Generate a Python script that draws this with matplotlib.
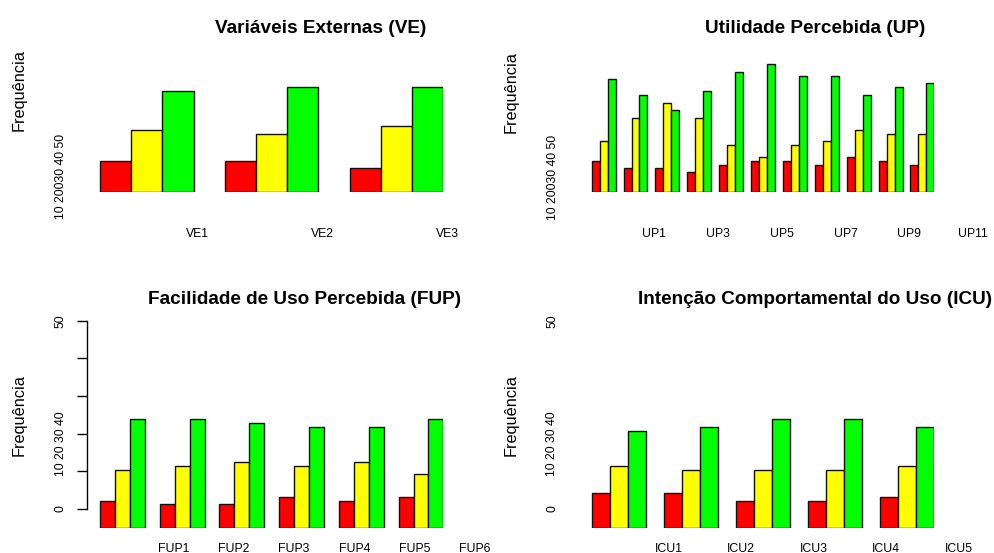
import matplotlib
matplotlib.use("Agg")
import matplotlib.pyplot as plt
import matplotlib.transforms as mtransforms
import numpy as np

plt.rcParams['font.family'] = ['Liberation Sans', 'DejaVu Sans']

W, H = 994, 553

# frequencias por item: discordo / neutro / concordo
ve_labels = ["VE1", "VE2", "VE3"]
ve_red = [8, 8, 6]
ve_yel = [16, 15, 17]
ve_grn = [26, 27, 27]

up_labels = ["UP%d" % i for i in range(1, 12)]
up_red = [8, 6, 6, 5, 7, 8, 8, 7, 9, 8, 7]
up_yel = [13, 19, 23, 19, 12, 9, 12, 13, 16, 15, 15]
up_grn = [29, 25, 21, 26, 31, 33, 30, 30, 25, 27, 28]

fup_labels = ["FUP%d" % i for i in range(1, 7)]
fup_red = [7, 6, 6, 8, 7, 8]
fup_yel = [15, 16, 17, 16, 17, 14]
fup_grn = [28, 28, 27, 26, 26, 28]

icu_labels = ["ICU%d" % i for i in range(1, 6)]
icu_red = [9, 9, 7, 7, 8]
icu_yel = [16, 15, 15, 15, 16]
icu_grn = [25, 26, 28, 28, 26]

yticks = [0, 10, 20, 30, 40, 50]
colors = ["#ff0000", "#ffff00", "#00ff00"]

fig = plt.figure(figsize=(W / 100, H / 100), dpi=100)


def fx(px):
    return px / W


def fy(py):
    return 1 - py / H


PXU = 3.87   # pixels per unit of frequency
YTOP = 55
FS_TICK = 8.8
FS_TITLE = 13.7


def panel(x0, k, base, n):
    ax = fig.add_axes([fx(x0), fy(base), k * 4 * n / W, YTOP * PXU / H])
    ax.set_xlim(0, 4 * n)
    ax.set_ylim(0, YTOP)
    ax.axis('off')
    return ax


def draw_bars(ax, red, yel, grn):
    idx = np.arange(len(red))
    for j, (vals, col) in enumerate(zip([red, yel, grn], colors)):
        ax.bar(idx * 4 + 1 + j, vals, width=1, align='edge', color=col,
               edgecolor='#111111', linewidth=1.0)


def xlabels(ax, labels, start, step, ybase, every=1):
    tr = mtransforms.blended_transform_factory(ax.transData, fig.transFigure)
    for i, lab in enumerate(labels):
        if i % every:
            continue
        ax.text(start + step * i, fy(ybase), lab, transform=tr, ha='center',
                va='baseline', fontsize=FS_TICK, clip_on=False)


def vtext(x, y, s, **kw):
    fig.text(fx(x), fy(y), s, rotation=90, ha='center', va='center', **kw)


# ---- Variaveis Externas
ax1 = panel(68.8, 31.2, 191.7, len(ve_red))
draw_bars(ax1, ve_red, ve_yel, ve_grn)
xlabels(ax1, ve_labels, 4.13, 4.0, 236.7)
fig.text(fx(320.5), fy(32.7), "Variáveis Externas (VE)", ha='center',
         va='baseline', fontsize=FS_TITLE, fontweight='bold')
vtext(19, 90, "Frequência", fontsize=11.7)
vtext(61, 176.5, "10 20030 40 50", fontsize=FS_TICK)

# ---- Utilidade Percebida
ax2 = panel(583.7, 7.97, 191.7, len(up_red))
draw_bars(ax2, up_red, up_yel, up_grn)
xlabels(ax2, up_labels, 8.86, 4.0, 236.7, every=2)
fig.text(fx(815), fy(32.7), "Utilidade Percebida (UP)", ha='center',
         va='baseline', fontsize=FS_TITLE, fontweight='bold')
vtext(511, 92, "Frequência", fontsize=11.7)
vtext(553, 177, "10 20030 40 50", fontsize=FS_TICK)

# ---- Facilidade de Uso Percebida
ax3 = panel(85.07, 14.93, 527.7, len(fup_red))
draw_bars(ax3, fup_red, fup_yel, fup_grn)
xlabels(ax3, fup_labels, 5.91, 4.04, 551.7)
fig.text(fx(305), fy(304), "Facilidade de Uso Percebida (FUP)", ha='center',
         va='baseline', fontsize=FS_TITLE, fontweight='bold')
vtext(19, 415, "Frequência", fontsize=11.7)

ay = fig.add_axes([fx(86.7), fy(509), 0.001, (509 - 320.7) / H])
ay.set_ylim(0, 50)
for s in ['top', 'right', 'bottom']:
    ay.spines[s].set_visible(False)
ay.spines['left'].set_linewidth(1.0)
ay.patch.set_visible(False)
ay.set_xticks([])
ay.set_yticks(yticks)
ay.set_yticklabels([])
ay.tick_params(axis='y', length=7.2, width=1.0)

vtext(61, 509, "0", fontsize=FS_TICK)
vtext(61, 443.5, "10 20 30 40", fontsize=FS_TICK)
vtext(61, 321, "50", fontsize=FS_TICK)

# ---- Intencao Comportamental do Uso
ax4 = panel(573.7, 18.0, 527.7, len(icu_red))
draw_bars(ax4, icu_red, icu_yel, icu_grn)
xlabels(ax4, icu_labels, 5.26, 4.03, 551.7)
fig.text(fx(815), fy(304), "Intenção Comportamental do Uso (ICU)", ha='center',
         va='baseline', fontsize=FS_TITLE, fontweight='bold')
vtext(511, 415, "Frequência", fontsize=11.7)
vtext(552, 509, "0", fontsize=FS_TICK)
vtext(552, 443.5, "10 20 30 40", fontsize=FS_TICK)
vtext(552, 321, "50", fontsize=FS_TICK)

fig.savefig("out.png", dpi=100)
